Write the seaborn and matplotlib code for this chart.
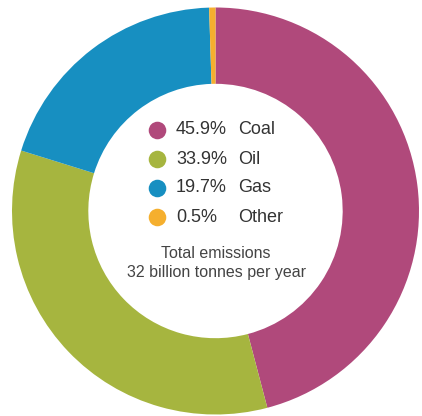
import matplotlib
matplotlib.use("Agg")
import matplotlib.pyplot as plt
import seaborn as sns

# emissions share by fuel
fuels = ["Coal", "Oil", "Gas", "Other"]
shares = [45.9, 33.9, 19.7, 0.5]
colors = ["#B0497B", "#A6B53F", "#178FC1", "#F5AF2E"]
total_lines = ["Total emissions", "32 billion tonnes per year"]

sns.set_theme(style="white")
plt.rcParams["font.family"] = ["Liberation Sans", "DejaVu Sans"]

fig = plt.figure(figsize=(4.22, 4.16), dpi=100)
# axes square in pixels, centred on the donut
ax = fig.add_axes([12 / 422, 1.5 / 416, 407 / 422, 407 / 416])

ax.pie(shares, colors=colors, startangle=90, counterclock=False,
       radius=1.0, wedgeprops=dict(width=0.375, linewidth=0))
ax.set_xlim(-1, 1)
ax.set_ylim(-1, 1)
ax.set_aspect("equal")
ax.axis("off")

# legend inside the hole
scale = 203.5
cx, cy = 215.5, 211


def to_data(px, py):
    return (px - cx) / scale, (cy - py) / scale


row_y = [130, 159, 188, 217]
for fuel, share, col, py in zip(fuels, shares, colors, row_y):
    mx, my = to_data(157, py)
    ax.scatter([mx], [my], s=160, color=col, linewidths=0, zorder=3)
    tx, ty = to_data(176, py)
    ax.text(tx, ty, f"{share}%", fontsize=13, color="#333333",
            va="center", ha="left")
    nx, ny = to_data(238, py)
    ax.text(nx, ny, fuel, fontsize=13, color="#333333",
            va="center", ha="left")

for line, py in zip(total_lines, [254, 273]):
    x, y = to_data(216, py)
    ax.text(x, y, line, fontsize=11.5, color="#444444", ha="center", va="center")

fig.savefig("out.png", dpi=100)
